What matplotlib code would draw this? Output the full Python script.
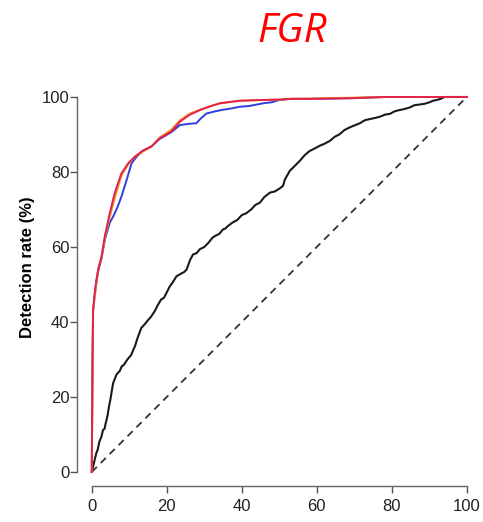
import matplotlib.pyplot as plt

# false positive rate (%) vs detection rate (%)
black_x = [0, 0.6, 1.2, 1.6, 2, 2.6, 3, 3.4, 3.6, 4.2, 4.6, 5, 5.4, 5.7,
           6.6, 7.5, 8, 8.5, 9.5, 10.5, 11, 11.5, 12.3, 13.2, 14.2, 15,
           15.8, 16.8, 17.6, 18.5, 19.2, 19.8, 20.8, 21.6, 22.6, 24, 24.6,
           25.3, 26.2, 27, 28, 28.8, 30, 31, 32.2, 33, 34, 35, 35.6, 36.2,
           37.5, 38.8, 40, 41.2, 42.5, 43.6, 44.8, 46, 47.5, 48.8, 50.1,
           51, 51.5, 52.8, 54, 55.5, 56.8, 58.1, 59.5, 60.8, 62, 63.5, 64.8,
           66, 67.4, 68.8, 70, 71.5, 72.8, 74.1, 75.5, 77, 78.2, 79.5, 80.8,
           82, 83.4, 84.8, 86, 87.5, 88.8, 90.1, 91, 92, 93, 94.1, 100]
black_y = [0, 2.5, 5, 6, 8, 9.5, 11.2, 11.5, 12.5, 15, 17.5, 19.5, 22,
           23.7, 26, 27, 28.2, 28.5, 30, 31.2, 32.4, 33.5, 36, 38.4, 39.5,
           40.5, 41.4, 42.9, 44.5, 46, 46.4, 47.5, 49.5, 50.6, 52.2, 53,
           53.3, 54, 56.5, 58, 58.4, 59.4, 60, 61, 62.5, 63, 63.5, 64.7,
           64.9, 65.5, 66.5, 67.2, 68.5, 69, 70, 71.2, 71.8, 73.3, 74.5,
           74.8, 75.6, 76.3, 78, 80.3, 81.5, 83, 84.5, 85.6, 86.3, 87, 87.5,
           88.3, 89.4, 90, 91.2, 91.9, 92.4, 93, 93.8, 94.1, 94.4, 94.8,
           95.3, 95.5, 96.2, 96.5, 96.8, 97.2, 97.8, 98, 98.2, 98.6, 99,
           99.2, 99.5, 100, 100]

red_x = [0, 0.1, 0.2, 0.35, 0.7, 1.2, 1.7, 2.6, 3.5, 4.8, 6.1, 7.9, 9.7,
         11.5, 13.5, 15.9, 18.1, 21.2, 23.5, 26, 28.8, 31.5, 34.1, 37, 39.5,
         44.8, 50.1, 53, 58, 70, 78, 85, 100]
red_y = [0, 15, 30, 43, 47, 51, 54, 57.4, 63, 69, 74.3, 79.6, 82.3, 84.1,
         85.6, 86.8, 89, 90.8, 93.4, 95.2, 96.5, 97.5, 98.3, 98.7, 99, 99.2,
         99.3, 99.5, 99.5, 99.7, 100, 100, 100]

blue_x = [0, 0.1, 0.2, 0.35, 0.7, 1.2, 1.7, 2.6, 3.5, 4.8, 5.7, 6.8, 7.9,
          9.3, 10.6, 11.9, 13.5, 15.9, 18.1, 21.2, 23.5, 25.5, 27.9, 29,
          30.6, 33, 35, 37, 39.5, 42, 45.6, 48, 50, 53, 58, 70, 78, 85, 100]
blue_y = [0, 15, 30, 43, 46.5, 50.5, 53.5, 57, 62, 66.5, 68.1, 70.5, 73.4,
          77.9, 82.3, 84, 85.6, 86.8, 88.8, 90.6, 92.5, 92.8, 93, 94.2, 95.6,
          96.2, 96.6, 96.9, 97.4, 97.6, 98.3, 98.6, 99.2, 99.5, 99.5, 99.7,
          100, 100, 100]

orange_x = [0, 0.35, 1.7, 2.6, 3.5, 4.8, 6.1, 7.3, 7.9, 9.7, 11.5, 15.9,
            18.1, 21.2, 23.5, 26, 28.8, 34.1, 39.5, 50, 53, 78, 100]
orange_y = [0, 43, 54, 57.4, 62.5, 68, 72.8, 77, 79, 82, 84.1, 86.8, 89.2,
            91.3, 93.8, 95.5, 96.6, 98.3, 99, 99.3, 99.5, 100, 100]

ticks = [0, 20, 40, 60, 80, 100]

plt.rcParams['font.family'] = ['Liberation Sans', 'DejaVu Sans']

fig = plt.figure(figsize=(4.83, 5.22), dpi=100)
ax = fig.add_axes([0.19, 0.0958, 0.7764, 0.7184])

ax.plot([0, 100], [0, 100], color='#333333', lw=1.3, ls=(0, (4, 3)), clip_on=False)
ax.plot(black_x, black_y, color='#1a1a1a', lw=1.5, clip_on=False)
ax.plot(blue_x, blue_y, color='#2f3fd8', lw=1.4, clip_on=False)
ax.plot(orange_x, orange_y, color='#f0a030', lw=1.4, clip_on=False)
ax.plot(red_x, red_y, color='#e3204a', lw=1.4, clip_on=False)

ax.set_xlim(0, 100)
ax.set_ylim(0, 100)
ax.set_xticks(ticks)
ax.set_yticks(ticks)
ax.tick_params(direction='out', length=4.7, width=1, color='#555555',
               labelsize=12, labelcolor='#222222')
ax.tick_params(axis='y', pad=1)
ax.tick_params(axis='x', pad=5)

for side in ['top', 'right']:
    ax.spines[side].set_visible(False)
ax.spines['left'].set_position(('outward', 10.4))
ax.spines['bottom'].set_position(('outward', 10))
for side in ['left', 'bottom']:
    ax.spines[side].set_color('#666666')
    ax.spines[side].set_linewidth(1)
    ax.spines[side].set_bounds(0, 100)

fig.text(28 / 483, 1 - 266.7 / 522, 'Detection rate (%)', fontsize=12,
         fontweight='bold', rotation=90, ha='center', va='center')

fig.text(0.605, 0.92, 'FGR', color='#ff0000', fontsize=29, style='italic',
         family='Open Sans', ha='center', va='baseline')

fig.savefig('out.png', dpi=100)
